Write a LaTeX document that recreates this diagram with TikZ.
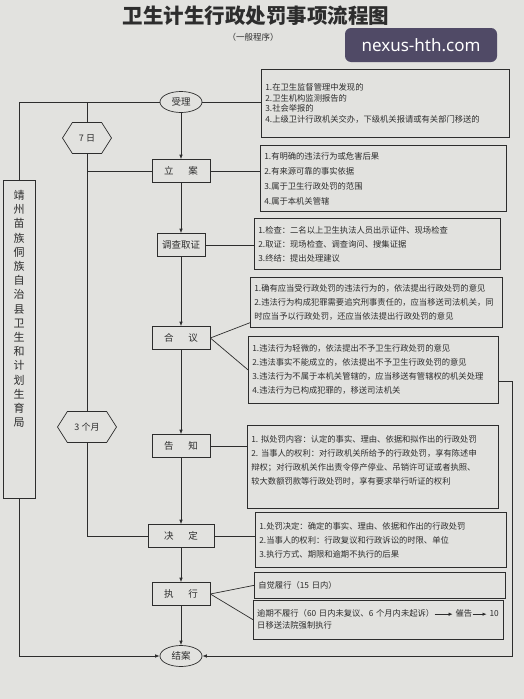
\documentclass[tikz,border=0pt]{standalone}
\usepackage{fontspec}
\setmainfont{Noto Sans CJK SC}
\newfontfamily\marksans{Noto Sans}
\usepackage{tikz}
\usetikzlibrary{arrows.meta,positioning,shapes.geometric,shapes.symbols}
\definecolor{paper}{RGB}{226,226,223}
\definecolor{ink}{RGB}{45,45,45}
\definecolor{markbg}{RGB}{80,74,102}
\newcommand{\smallarrow}[1]{\tikz[baseline=-0.6ex]\draw[ink,line width=0.6pt,-{Latex[length=4pt,width=3.5pt]}] (0pt,0pt) -- (#1,0pt);}

\begin{document}
\begin{tikzpicture}[
    x=1pt, y=-1pt,
    line width=0.7pt, color=ink,
    stepbox/.style={draw, rectangle, minimum width=58pt, minimum height=23pt, font=\fontsize{9.5}{11}\selectfont},
    roundbox/.style={draw, ellipse, minimum width=42pt, minimum height=21pt, inner sep=1pt, font=\fontsize{9.5}{11}\selectfont},
    limitbox/.style={draw, signal, signal to=east and west, signal from=nowhere, signal pointer angle=115, minimum height=31pt, font=\fontsize{9}{11}\selectfont},
    infobox/.style={draw, anchor=north west, align=left, inner xsep=4pt, inner ysep=3pt, font=\fontsize{8.3}{14}\selectfont},
    arrow/.style={-{Latex[length=4.5pt,width=3.5pt]}}
]
\path[fill=paper, use as bounding box] (0,0) rectangle (524,699);

\node (title) [font=\fontsize{20.5}{24}\selectfont\bfseries] at (256,16) {卫生计生行政处罚事项流程图};
\node (subtitle) [font=\fontsize{8.5}{10}\selectfont] at (253,37) {（一般程序）};
\node (mark) [fill=markbg, rounded corners=6pt, text=white, minimum width=152pt, minimum height=34pt, font=\marksans\fontsize{17}{20}\selectfont] at (421,45) {nexus-hth.com};

\node (accept) [roundbox] at (181,102) {受理};
\node (file) [stepbox] at (181,171) {立\hspace{15pt}案};
\node (probe) [stepbox, minimum width=48pt] at (181,245) {调查取证};
\node (discuss) [stepbox] at (181,338) {合\hspace{15pt}议};
\node (notify) [stepbox] at (181,446) {告\hspace{15pt}知};
\node (decide) [stepbox, minimum width=66pt] at (181,536) {决\hspace{15pt}定};
\node (execute) [stepbox] at (181,594) {执\hspace{15pt}行};
\node (close) [roundbox] at (181,656) {结案};

\node (week) [limitbox, minimum width=49pt] at (87,138) {7~日};
\node (quarter) [limitbox, minimum width=59pt] at (87,427) {3~个月};

\node (bureau) [draw, minimum width=32pt, minimum height=318pt] at (19,339) {};
\node (bureautext) [align=center, font=\fontsize{11}{14.2}\selectfont] at (19,309) {靖\\州\\苗\\族\\侗\\族\\自\\治\\县\\卫\\生\\和\\计\\划\\生\\育\\局};

\node (origin) [infobox, text width=240pt, minimum height=68pt, font=\fontsize{8.3}{10.5}\selectfont] at (261,69) {1.在卫生监督管理中发现的\\2.卫生机构监测报告的\\3.社会举报的\\4.上级卫计行政机关交办，下级机关报请或有关部门移送的};
\node (cases) [infobox, text width=238pt, minimum height=66pt, font=\fontsize{8.3}{15}\selectfont] at (260,145) {1.有明确的违法行为或危害后果\\2.有来源可靠的事实依据\\3.属于卫生行政处罚的范围\\4.属于本机关管辖};
\node (probebox) [infobox, text width=238pt, minimum height=51pt] at (254,218) {1.检查：二名以上卫生执法人员出示证件、现场检查\\2.取证：现场检查、调查询问、搜集证据\\3.终结：提出处理建议};
\node (opinion) [infobox, text width=244pt, minimum height=50pt] at (250,277) {1.确有应当受行政处罚的违法行为的，依法提出行政处罚的意见\\2.违法行为构成犯罪需要追究刑事责任的，应当移送司法机关，同\\时应当予以行政处罚，还应当依法提出行政处罚的意见};
\node (noaction) [infobox, text width=242pt, minimum height=67pt] at (248,336) {1.违法行为轻微的，依法提出不予卫生行政处罚的意见\\2.违法事实不能成立的，依法提出不予卫生行政处罚的意见\\3.违法行为不属于本机关管辖的，应当移送有管辖权的机关处理\\4.违法行为已构成犯罪的，移送司法机关};
\node (rights) [infobox, text width=243pt, minimum height=83pt] at (247,425) {1.~拟处罚内容：认定的事实、理由、依据和拟作出的行政处罚\\2.~当事人的权利：对行政机关所给予的行政处罚，享有陈述申\\辩权；对行政机关作出责令停产停业、吊销许可证或者执照、\\较大数额罚款等行政处罚时，享有要求举行听证的权利\\\mbox{}};
\node (ruling) [infobox, text width=243pt, minimum height=55pt] at (255,512) {1.处罚决定：确定的事实、理由、依据和作出的行政处罚\\2.当事人的权利：行政复议和行政诉讼的时限、单位\\3.执行方式、期限和逾期不执行的后果};
\node (selfpay) [infobox, text width=243pt, minimum height=26pt] at (254,572) {自觉履行（15~日内）};
\node (overdue) [infobox, text width=242pt, minimum height=39pt, font=\fontsize{8.3}{12}\selectfont] at (253,600) {逾期不履行（60~日内未复议、6~个月内未起诉）\smallarrow{18pt}~催告\smallarrow{14pt}~10\\日移送法院强制执行};

\coordinate (rightturn) at (512,656);

\draw[arrow] (accept) -- (file);
\draw[arrow] (file) -- (probe);
\draw[arrow] (probe) -- (discuss);
\draw[arrow] (discuss) -- (notify);
\draw[arrow] (notify) -- (decide);
\draw[arrow] (decide) -- (execute);
\draw[arrow] (execute) -- (close);

\draw (accept) -- (accept -| origin.west);
\draw (file) -- (file -| cases.west);
\draw (probe) -- (probe -| probebox.west);
\draw (discuss.east) -- ([yshift=5pt]opinion.south west);
\draw (discuss.east) -- (noaction.west);
\draw (notify) -- (notify -| rights.west);
\draw (decide) -- (decide -| ruling.west);
\draw (execute.east) -- (selfpay.west);
\draw (execute.east) -- (overdue.west);

\draw (accept) -| (bureau.north);
\draw (week.north) -- (week.north |- accept);
\draw (week.south) -- (quarter.north);
\draw (week.south |- file) -- (file);
\draw (quarter.south) |- (decide);
\draw[arrow] (bureau.south) |- (close);
\draw[arrow] ([yshift=-11pt]noaction.east) -| (rightturn) -- (close);
\end{tikzpicture}
\end{document}
